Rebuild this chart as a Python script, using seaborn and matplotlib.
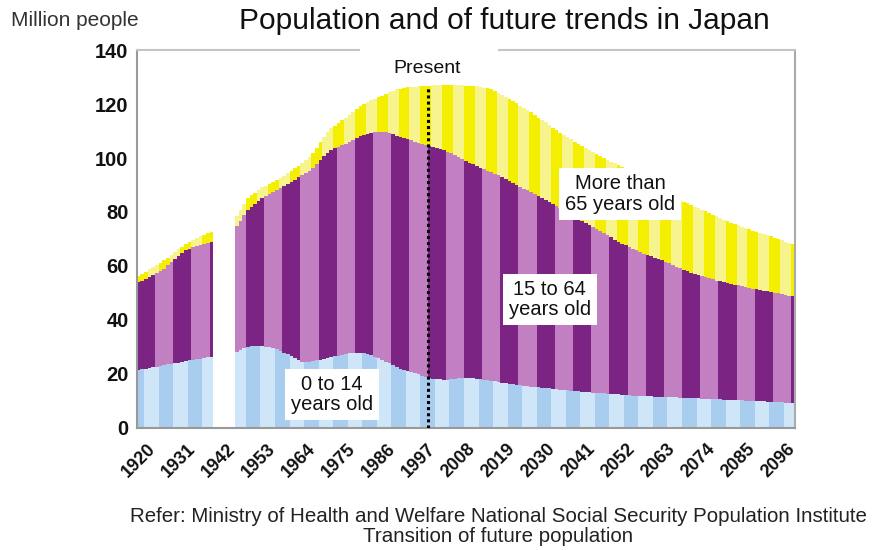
import numpy as np
import pandas as pd
import matplotlib
matplotlib.use("Agg")
import matplotlib.pyplot as plt
from matplotlib.patches import Rectangle
import seaborn as sns

# ---------------- data (million people) ----------------
years_pre = list(range(1920, 1941))
years_post = list(range(1947, 2101))
years = years_pre + years_post

# top of each band (cumulative)
total = [
    56.2, 57.0, 57.9, 58.7, 59.6, 60.4, 61.2, 62.1, 63.1, 64.2, 65.2, 66.2, 67.2, 68.2, 69.0, 69.8,
    70.5, 71.1, 71.6, 72.1, 72.6,
    78.6, 80.8, 83.0, 85.0, 86.2, 87.2, 88.2, 89.1, 89.8, 90.4, 91.0, 91.7, 92.5, 93.4, 94.3, 95.2,
    96.2, 97.2, 98.3, 99.4, 100.5, 102.0, 103.8, 105.8, 107.8, 109.6, 111.0, 112.0, 113.0, 114.0,
    114.9, 116.0, 117.2, 118.3, 119.2, 120.0, 120.7, 121.4, 122.0, 122.5, 123.1, 123.7, 124.3, 124.9,
    125.4, 125.7, 126.0, 126.2, 126.3, 126.4, 126.5, 126.6, 126.7, 126.8, 126.9, 127.0, 127.0, 127.0,
    127.0, 127.0, 127.0, 126.9, 126.9, 126.8, 126.7, 126.6, 126.5, 126.3, 126.1, 125.9, 125.6, 125.0,
    124.2, 123.4, 122.6, 121.8, 121.0, 120.2, 119.4, 118.6, 117.8, 116.9, 116.0, 115.0, 114.1, 113.2,
    112.2, 111.3, 110.3, 109.4, 108.6, 107.7, 106.9, 106.1, 105.3, 104.5, 103.7, 102.9, 102.1, 101.4,
    100.7, 100.0, 99.4, 98.7, 98.0, 97.3, 96.6, 95.9, 95.1, 94.3, 93.5, 92.6, 91.8, 91.0, 90.2, 89.4,
    88.6, 87.9, 87.2, 86.5, 85.8, 85.1, 84.4, 83.8, 83.2, 82.6, 82.0, 81.4, 80.8, 80.2, 79.6, 79.0,
    78.4, 77.8, 77.2, 76.6, 76.1, 75.6, 75.1, 74.6, 74.1, 73.6, 73.1, 72.7, 72.3, 71.9, 71.5, 71.0,
    70.5, 70.0, 69.5, 69.0, 68.5, 68.0,
]
under_65 = [
    53.9, 54.6, 55.3, 56.0, 56.7, 57.4, 58.1, 59.0, 60.2, 61.3, 62.5, 63.7, 64.9, 65.8, 66.4, 66.9,
    67.4, 67.8, 68.2, 68.5, 68.8,
    74.8, 76.8, 78.8, 80.6, 81.8, 83.0, 84.2, 85.3, 86.0, 86.7, 87.4, 88.1, 88.8, 89.6, 90.4, 91.2,
    92.0, 92.8, 93.6, 94.4, 95.2, 96.4, 97.8, 99.3, 100.8, 102.0, 102.9, 103.6, 104.2, 104.8, 105.3,
    106.0, 106.8, 107.5, 108.1, 108.6, 109.0, 109.3, 109.5, 109.6, 109.6, 109.5, 109.2, 108.8, 108.3,
    107.9, 107.5, 107.0, 106.5, 106.1, 105.7, 105.3, 104.9, 104.5, 104.1, 103.7, 103.3, 102.9, 102.4,
    101.8, 101.1, 100.4, 99.7, 99.0, 98.3, 97.6, 97.0, 96.4, 95.9, 95.3, 94.8, 94.2, 93.6, 92.9, 92.2,
    91.5, 90.8, 90.1, 89.4, 88.7, 88.0, 87.3, 86.6, 85.9, 85.2, 84.5, 83.8, 83.1, 82.4, 81.6, 80.8,
    80.0, 79.2, 78.4, 77.6, 76.8, 76.0, 75.2, 74.5, 73.8, 73.0, 72.2, 71.4, 70.6, 69.8, 69.0, 68.3,
    67.6, 67.0, 66.4, 65.8, 65.2, 64.6, 64.1, 63.6, 63.1, 62.6, 62.1, 61.6, 61.0, 60.4, 59.8, 59.2,
    58.6, 58.0, 57.5, 57.0, 56.6, 56.2, 55.8, 55.4, 55.0, 54.6, 54.3, 54.0, 53.7, 53.4, 53.1, 52.8,
    52.5, 52.2, 51.9, 51.6, 51.4, 51.2, 50.9, 50.6, 50.3, 50.0, 49.8, 49.6, 49.3, 49.0, 48.8,
]
under_15 = [
    21.6, 21.8, 22.0, 22.3, 22.5, 22.7, 23.0, 23.2, 23.5, 23.7, 24.0, 24.2, 24.5, 24.7, 25.0, 25.2,
    25.5, 25.7, 25.9, 26.1, 26.3,
    28.0, 28.8, 29.5, 30.0, 30.2, 30.3, 30.3, 30.2, 30.1, 30.0, 29.6, 29.1, 28.5, 27.9, 27.3, 26.6,
    25.9, 25.1, 24.6, 24.5, 24.6, 24.8, 25.0, 25.3, 25.6, 25.9, 26.2, 26.5, 26.8, 27.1, 27.4, 27.6,
    27.8, 27.9, 27.8, 27.6, 27.3, 26.9, 26.4, 25.9, 25.3, 24.6, 23.9, 23.2, 22.6, 22.0, 21.5, 21.0,
    20.6, 20.2, 19.8, 19.4, 19.0, 18.6, 18.3, 18.1, 18.0, 17.9, 17.9, 18.0, 18.2, 18.4, 18.5, 18.6,
    18.5, 18.4, 18.2, 18.0, 17.8, 17.6, 17.4, 17.2, 17.0, 16.8, 16.6, 16.4, 16.2, 16.0, 15.8, 15.6,
    15.4, 15.2, 15.1, 15.0, 14.8, 14.7, 14.6, 14.5, 14.4, 14.2, 14.1, 13.9, 13.8, 13.7, 13.6, 13.4,
    13.3, 13.2, 13.1, 13.0, 12.9, 12.8, 12.7, 12.6, 12.5, 12.4, 12.3, 12.2, 12.1, 12.0, 11.9, 11.8,
    11.8, 11.7, 11.7, 11.6, 11.6, 11.5, 11.5, 11.4, 11.3, 11.3, 11.2, 11.1, 11.1, 11.0, 10.9, 10.9,
    10.8, 10.8, 10.7, 10.7, 10.6, 10.6, 10.5, 10.5, 10.4, 10.3, 10.3, 10.2, 10.1, 10.1, 10.0, 9.9,
    9.9, 9.8, 9.7, 9.7, 9.6, 9.5, 9.5, 9.4, 9.4, 9.3,
]

tick_years = [1920, 1931, 1942, 1953, 1964, 1975, 1986, 1997, 2008, 2019, 2030, 2041,
              2052, 2063, 2074, 2085, 2096]
present_year = 2000

# ---------------- styling ----------------
sns.set_theme(style="white")
plt.rcParams["font.family"] = ["Liberation Sans", "DejaVu Sans"]

YELLOW = ["#f4ee00", "#f7f48e"]
PURPLE = ["#7c2484", "#c27fc1"]
BLUE = ["#a8cdee", "#cfe5f8"]

df = pd.DataFrame({"year": years, "total": total, "under_65": under_65, "under_15": under_15})
df["c_old"] = [YELLOW[(y // 3) % 2] for y in df["year"]]
df["c_work"] = [PURPLE[(y // 5) % 2] for y in df["year"]]
df["c_young"] = [BLUE[((y + 2) // 4) % 2] for y in df["year"]]

fig = plt.figure(figsize=(8.83, 5.5), dpi=100)
ax = fig.add_axes([0.155, 0.222, 0.745, 0.687])

for col, ccol in [("total", "c_old"), ("under_65", "c_work"), ("under_15", "c_young")]:
    pal = {c: c for c in df[ccol].unique()}
    sns.barplot(data=df, x="year", y=col, hue=ccol, palette=pal, native_scale=True,
                dodge=False, width=1.0, saturation=1, errorbar=None, legend=False,
                linewidth=0, ax=ax)

ax.set_xlim(1919.5, 2100.5)
ax.set_ylim(0, 140)
ax.set_yticks(range(0, 141, 20))
ax.set_xticks(tick_years)
ax.set_xticklabels([str(y) for y in tick_years], rotation=45, ha="center",
                   fontsize=13, fontweight="bold", color="#111111")
ax.set_yticklabels([str(v) for v in range(0, 141, 20)], fontsize=14.5, fontweight="bold",
                   color="#111111")
ax.tick_params(axis="y", direction="out", length=3, width=1, color="#888888", pad=3)
ax.tick_params(axis="x", direction="in", length=4, width=1, color="#555555", pad=9)
ax.set_xlabel("")
ax.set_ylabel("")

for side, col in [("left", "#999999"), ("right", "#aaaaaa"), ("top", "#c4c4c4"), ("bottom", "#999999")]:
    ax.spines[side].set_visible(True)
    ax.spines[side].set_color(col)
    ax.spines[side].set_linewidth(1.5)

# white gap in the top frame around the "Present" label
ax.add_patch(Rectangle((1980.8, 137.5), 38.0, 5.0, facecolor="white", edgecolor="none",
                       clip_on=False, zorder=5))

# present marker
present_total = total[years.index(present_year)]
ax.vlines(present_year - 0.5, 0, present_total, colors="black", linestyles=(0, (1, 1)),
          linewidth=2.2, zorder=5)
ax.text(present_year - 0.7, 133.0, "Present", ha="center", va="center", fontsize=14,
        zorder=6, clip_on=False, color="#111111",
        bbox=dict(boxstyle="square,pad=0.3", facecolor="white", edgecolor="none"))

# band labels
box = dict(boxstyle="square,pad=0.3", facecolor="white", edgecolor="none")
ax.text(1973.1, 12.3, "0 to 14\nyears old", ha="center", va="center", fontsize=14.5,
        linespacing=1.1, bbox=box, zorder=6, color="#111111")
ax.text(2033.1, 47.6, "15 to 64\nyears old", ha="center", va="center", fontsize=14.5,
        linespacing=1.1, bbox=box, zorder=6, color="#111111")
ax.text(2052.4, 86.6, "More than\n65 years old", ha="center", va="center", fontsize=14.5,
        linespacing=1.1, bbox=box, zorder=6, color="#111111")

# titles and notes
fig.text(0.012, 0.962, "Million people", ha="left", va="center", fontsize=15, color="#333333")
fig.text(0.571, 0.962, "Population and of future trends in Japan", ha="center", va="center",
         fontsize=21.5, color="#111111")
fig.text(0.564, 0.060, "Refer: Ministry of Health and Welfare National Social Security Population Institute",
         ha="center", va="center", fontsize=14.8, color="#222222")
fig.text(0.564, 0.024, "Transition of future population", ha="center", va="center",
         fontsize=14.8, color="#222222")

fig.savefig("out.png", dpi=100, facecolor="white")
